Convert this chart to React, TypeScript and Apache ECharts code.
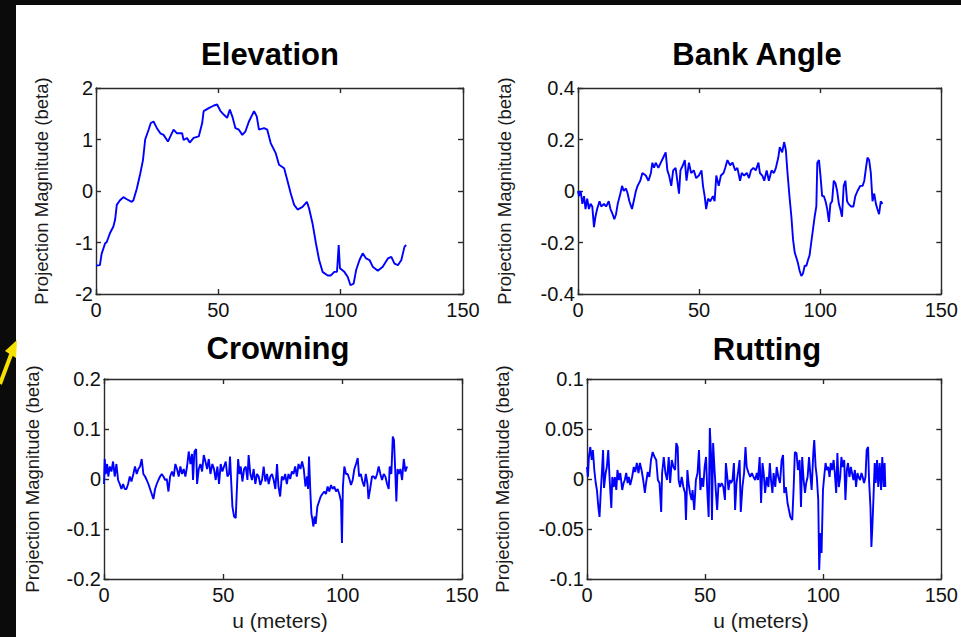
import React, { useEffect, useRef } from "react";
import * as echarts from "echarts";

// ---------- data (u in meters, projection magnitude) ----------
const elevU = [0.0,1.6,2.3,3.7,4.4,5.7,7.1,7.8,8.5,9.8,11.2,12.6,14.6,15.3,16.7,18.1,19.2,20.1,21.5,22.4,23.5,24.9,26.3,27.6,29.4,30.4,31.7,33.1,35.2,35.8,37.2,38.3,39.9,42.0,43.4,44.0,46.1,48.2,49.5,50.9,52.3,53.6,54.7,55.7,57.0,58.4,59.8,61.1,62.5,64.6,65.7,66.6,68.7,70.0,71.4,73.5,74.8,76.9,78.2,79.6,81.0,82.4,84.4,86.2,87.1,88.5,89.9,91.2,92.6,94.7,96.0,97.4,98.5,99.2,99.7,101.5,102.9,104.0,105.3,106.3,107.7,109.0,110.4,111.8,113.1,115.2,117.2,119.3,120.7,122.0,123.4,124.8,126.1,126.8];
const elevV = [-1.45,-1.44,-1.22,-1.02,-0.99,-0.82,-0.69,-0.56,-0.27,-0.18,-0.12,-0.16,-0.21,-0.18,0.05,0.34,0.60,1.00,1.19,1.32,1.35,1.22,1.12,1.09,0.96,1.06,1.19,1.12,1.12,0.99,1.03,0.94,1.03,1.06,1.32,1.55,1.61,1.66,1.68,1.55,1.48,1.42,1.58,1.45,1.22,1.19,1.09,1.16,1.35,1.55,1.45,1.19,1.22,1.19,0.93,0.73,0.51,0.44,0.21,-0.05,-0.27,-0.36,-0.31,-0.21,-0.34,-0.63,-1.02,-1.34,-1.57,-1.64,-1.64,-1.57,-1.57,-1.05,-1.50,-1.57,-1.67,-1.83,-1.80,-1.54,-1.34,-1.21,-1.31,-1.34,-1.47,-1.55,-1.47,-1.31,-1.28,-1.41,-1.44,-1.34,-1.08,-1.05];

const bankU = [0.0,0.4,1.1,1.8,2.5,3.1,3.8,4.5,5.2,5.9,6.6,7.2,7.9,8.9,9.6,10.7,11.6,12.7,13.4,14.3,15.0,15.7,16.4,17.5,18.2,18.9,19.8,20.5,21.2,22.3,23.0,23.9,24.6,25.7,26.6,28.0,29.1,30.1,30.7,31.4,32.1,33.2,34.2,35.2,36.2,36.9,37.6,38.5,39.3,40.3,41.0,41.7,42.3,43.3,44.1,44.8,45.8,46.7,47.8,48.8,49.9,51.0,51.6,52.3,52.9,53.7,54.6,55.7,56.4,57.1,58.1,59.0,60.1,60.8,61.7,62.8,63.8,64.9,65.8,66.9,67.6,68.6,69.7,70.6,71.4,72.4,73.4,74.5,75.1,76.1,76.9,77.9,78.8,79.9,80.9,81.7,82.7,83.3,84.3,85.1,85.8,86.5,87.4,88.1,88.8,89.5,90.2,90.8,91.5,92.2,92.9,93.6,94.3,94.9,95.6,96.3,97.0,97.7,98.4,98.8,99.5,100.1,100.8,101.5,102.2,102.9,103.6,104.2,104.9,105.6,106.3,107.0,107.7,108.3,109.0,109.7,110.4,111.1,111.7,112.7,113.7,114.5,115.4,116.5,117.5,118.2,118.9,119.5,120.2,120.9,121.6,122.3,123.0,123.6,124.3,125.0,125.7];
const bankV = [0.00,-0.02,0.00,-0.05,-0.02,-0.07,-0.03,-0.07,-0.05,-0.06,-0.14,-0.10,-0.07,-0.04,-0.06,-0.05,-0.06,-0.04,-0.07,-0.09,-0.11,-0.09,-0.05,-0.01,0.02,0.00,0.01,-0.01,-0.04,-0.07,-0.04,0.00,0.02,0.04,0.07,0.06,0.04,0.07,0.11,0.09,0.11,0.09,0.11,0.13,0.15,0.08,0.06,0.02,0.08,0.09,0.04,-0.01,0.08,0.10,0.12,0.04,0.11,0.07,0.08,0.05,0.06,0.08,0.02,-0.02,-0.07,-0.03,-0.04,-0.02,-0.04,0.06,0.02,0.06,0.07,0.09,0.12,0.10,0.11,0.08,0.09,0.04,0.07,0.06,0.07,0.05,0.08,0.09,0.08,0.11,0.07,0.06,0.04,0.08,0.04,0.08,0.07,0.09,0.13,0.17,0.15,0.19,0.16,0.07,-0.03,-0.10,-0.19,-0.24,-0.26,-0.28,-0.31,-0.33,-0.32,-0.29,-0.29,-0.27,-0.25,-0.20,-0.15,-0.10,-0.06,0.11,0.12,0.06,-0.02,-0.02,-0.04,-0.07,-0.12,-0.05,-0.04,0.04,0.03,0.00,-0.05,-0.07,-0.10,0.02,0.04,-0.04,-0.05,-0.06,-0.06,-0.02,0.00,0.02,0.02,0.04,0.09,0.13,0.12,0.07,-0.04,-0.01,-0.05,-0.07,-0.09,-0.04,-0.05];

const crownU = [0.0,0.3,0.7,1.3,1.8,2.4,3.1,3.8,4.5,5.2,5.9,6.6,7.3,8.0,8.7,9.4,10.1,10.8,11.5,12.3,13.0,13.7,14.4,15.1,15.8,16.5,17.2,17.9,18.6,19.3,20.0,20.7,21.4,22.1,22.8,23.5,24.2,24.9,25.6,26.3,27.0,27.7,28.5,29.2,29.9,30.6,31.3,32.0,32.7,33.4,34.1,34.8,35.5,36.2,36.9,37.3,37.9,38.6,39.0,39.7,40.4,41.1,41.8,42.5,43.2,43.9,44.6,45.4,46.1,46.8,47.5,48.2,48.9,49.6,50.3,51.0,51.7,52.4,52.8,53.4,53.8,54.5,55.2,55.6,56.2,56.8,57.3,58.0,58.7,59.4,60.1,60.6,61.3,62.0,62.7,63.4,64.1,64.8,65.5,66.2,66.9,67.6,68.3,69.0,69.7,70.4,71.1,71.8,72.5,73.1,73.8,74.5,75.2,75.9,76.6,77.3,78.0,78.7,79.4,80.1,80.8,81.5,82.3,83.0,83.7,84.4,85.1,85.5,85.9,86.5,86.9,87.3,87.7,88.3,88.7,89.4,90.1,90.8,91.5,92.3,93.0,93.7,94.4,95.1,95.8,96.5,97.2,97.9,98.6,99.3,99.7,100.1,100.7,101.4,102.1,102.8,103.5,104.2,104.9,105.6,106.3,106.9,107.6,108.3,109.0,109.7,110.4,110.8,111.5,112.3,113.0,113.7,114.4,115.1,115.8,116.5,117.2,117.9,118.6,119.3,119.7,120.4,121.0,121.5,122.0,122.5,123.0,123.5,124.2,124.9,125.6,126.3,127.0];
const crownV = [-0.01,0.04,0.01,0.03,0.005,0.025,0.015,0.035,0.005,0.03,-0.002,-0.01,-0.02,-0.01,-0.02,-0.02,-0.01,0.005,-0.005,0.01,0.025,0.01,0.02,0.025,0.04,0.01,0.005,-0.002,-0.01,-0.02,-0.03,-0.04,-0.02,-0.01,-0.002,0.005,0.01,0.005,-0.002,0.0,-0.025,0.005,0.015,0.005,0.03,0.02,0.005,0.025,0.01,0.02,0.005,0.025,0.055,0.03,0.05,-0.002,0.055,0.06,-0.01,0.02,0.03,0.015,0.048,0.035,0.02,0.04,0.01,0.03,0.02,-0.002,0.025,-0.01,0.03,0.015,0.025,0.035,0.005,0.01,0.045,-0.015,-0.055,-0.075,-0.078,-0.03,0.04,0.01,0.025,-0.005,0.02,0.025,-0.002,0.048,0.01,-0.002,0.02,-0.01,0.01,0.005,-0.012,-0.002,0.025,-0.005,0.01,-0.01,0.005,0.01,-0.002,-0.02,0.03,-0.015,-0.035,0.005,-0.002,0.01,-0.01,0.01,0.0,0.015,0.01,0.025,0.005,0.03,0.02,0.035,0.02,-0.015,0.005,-0.02,0.045,-0.03,-0.07,-0.08,-0.095,-0.075,-0.09,-0.055,-0.045,-0.035,-0.03,-0.025,-0.03,-0.015,-0.025,-0.012,-0.02,-0.015,-0.025,-0.02,-0.03,-0.045,-0.128,-0.015,0.025,0.01,0.01,0.0,-0.012,-0.002,0.02,0.03,0.042,0.005,0.01,-0.005,-0.015,0.01,-0.01,-0.04,-0.02,0.005,0.005,0.0,0.01,0.025,0.01,-0.002,0.01,0.005,-0.01,-0.02,0.025,0.01,0.085,0.078,0.02,-0.045,0.02,0.01,0.02,-0.002,0.04,0.015,0.025];

const ruttU = [0.0,0.4,0.8,1.4,2.0,2.5,3.1,3.7,4.2,4.8,5.3,5.8,6.3,6.8,7.2,7.9,8.4,9.0,9.6,10.3,10.7,11.3,11.8,12.4,12.9,13.5,14.1,14.9,15.5,16.0,16.6,17.2,17.7,18.3,19.1,19.8,20.4,21.1,21.8,22.4,23.1,23.8,24.5,25.0,25.7,26.4,27.1,27.8,28.6,29.3,30.0,30.7,31.4,31.8,32.5,33.2,33.9,34.6,35.2,35.9,36.6,37.3,37.8,38.4,38.8,39.4,40.1,40.8,41.5,41.9,42.5,43.0,43.6,44.3,44.7,45.4,46.1,46.8,47.4,48.0,48.7,49.2,49.8,50.4,50.9,51.5,52.0,52.5,52.9,53.4,54.0,54.6,55.1,55.7,56.3,57.0,57.7,58.4,58.8,59.4,59.9,60.5,61.0,61.6,62.2,62.7,63.3,63.9,64.6,65.1,65.8,66.5,67.1,67.6,68.4,69.1,69.8,70.5,71.2,71.9,72.4,73.1,73.7,74.3,74.8,75.4,76.1,76.8,77.4,77.9,78.5,79.0,79.7,80.3,81.0,81.7,82.4,83.0,83.5,84.2,84.9,85.5,86.1,86.9,87.5,88.0,88.7,89.3,90.0,90.6,91.1,91.7,92.3,92.8,93.4,94.0,94.5,95.1,95.8,96.2,96.8,97.3,97.9,98.3,98.9,99.3,99.9,100.4,101.0,101.5,102.1,102.7,103.2,103.8,104.4,104.9,105.5,106.0,106.6,107.2,107.7,108.3,108.9,109.4,110.0,110.5,111.1,111.7,112.2,112.8,113.4,113.9,114.5,115.0,115.6,116.2,116.7,117.3,117.9,118.4,119.0,119.4,120.0,120.4,120.8,121.2,121.8,122.2,122.8,123.3,123.9,124.5,125.0,125.6,126.0,126.3];
const ruttV = [0.012,0.002,0.022,0.032,0.019,0.029,0.009,-0.004,-0.011,-0.028,-0.038,-0.014,0.006,0.029,-0.009,0.006,0.012,0.029,-0.001,-0.029,0.002,-0.008,0.002,-0.011,0.009,-0.001,0.006,-0.011,-0.004,-0.001,0.006,-0.004,0.002,-0.006,0.002,0.012,0.007,0.016,0.006,0.016,0.009,-0.001,-0.014,-0.004,0.007,0.002,0.019,0.027,0.022,0.019,-0.001,-0.004,-0.033,0.006,0.022,0.006,-0.001,0.022,-0.004,0.019,0.012,0.009,0.036,0.032,-0.001,-0.008,0.002,-0.008,-0.014,-0.041,0.009,-0.004,-0.014,-0.021,-0.011,-0.031,-0.001,0.006,0.029,-0.011,0.001,-0.008,0.012,0.022,-0.011,-0.038,0.051,0.026,-0.041,0.036,0.009,-0.014,-0.031,-0.004,-0.008,-0.004,-0.008,-0.021,0.016,0.002,-0.011,-0.001,-0.004,-0.001,0.016,-0.031,-0.004,0.006,0.019,-0.033,-0.008,0.006,0.032,0.012,0.006,0.002,0.006,0.002,-0.001,0.006,-0.001,0.022,-0.024,0.016,0.006,-0.014,0.002,-0.008,0.016,-0.001,-0.014,0.006,-0.008,0.012,0.002,-0.004,0.019,0.024,-0.014,-0.008,-0.024,-0.031,-0.038,-0.041,-0.008,0.027,0.026,0.009,0.019,-0.028,0.022,-0.001,-0.014,-0.004,0.002,0.022,0.006,-0.011,0.026,0.039,0.012,0.002,-0.021,-0.091,-0.054,-0.074,-0.011,0.002,0.016,0.009,0.012,0.002,0.016,0.009,0.019,0.006,-0.014,0.026,-0.008,0.002,0.022,0.012,0.019,-0.021,0.009,0.016,0.002,0.012,0.006,-0.001,0.009,-0.008,0.006,0.002,-0.001,0.006,0.002,-0.004,0.002,0.029,0.032,-0.001,-0.028,-0.068,-0.048,-0.024,0.016,-0.004,0.019,-0.008,0.016,-0.011,0.022,-0.008,0.016,-0.008];

const X_TICKS = [0, 50, 100, 150];
const TITLES = ["Elevation", "Bank Angle", "Crowning", "Rutting"];
const Y_NAME = "Projection Magnitude (beta)";
const X_NAME = "u (meters)";
const Y_MIN = [-2, -0.4, -0.2, -0.1];
const Y_MAX = [2, 0.4, 0.2, 0.1];
const Y_STEP = [1, 0.2, 0.1, 0.05];
const SERIES_U = [elevU, bankU, crownU, ruttU];
const SERIES_V = [elevV, bankV, crownV, ruttV];
const SHOW_X_NAME = [false, false, true, true];

// ---------- layout ----------
const LAYOUT = [
  { left: 96, top: 88, width: 367, height: 206, titleX: 270, titleY: 54, yNameX: 41, xNameX: 280 },
  { left: 578, top: 88, width: 367, height: 206, titleX: 757, titleY: 54, yNameX: 504, xNameX: 761 },
  { left: 104, top: 379, width: 358, height: 200, titleX: 278, titleY: 348, yNameX: 32, xNameX: 280 },
  { left: 587, top: 379, width: 356, height: 200, titleX: 767, titleY: 349, yNameX: 502, xNameX: 761 },
];

const FONT = "'Liberation Sans', Arial, Helvetica, sans-serif";
const AX_COLOR = "#2a2a2a";
const LABEL_COLOR = "#111";

function fmt(v: number) {
  return String(parseFloat(v.toFixed(4)));
}

export default function App() {
  const ref = useRef<HTMLDivElement>(null);

  useEffect(() => {
    if (!ref.current) return;
    const chart = echarts.init(ref.current, undefined, { renderer: "svg" });

    const grids: any[] = [];
    const xAxes: any[] = [];
    const yAxes: any[] = [];
    const series: any[] = [];
    const graphics: any[] = [];

    LAYOUT.forEach((L, i) => {
      grids.push({ left: L.left, top: L.top, width: L.width, height: L.height, containLabel: false });
      const lineStyle = { color: AX_COLOR, width: 1.4 };
      const tick = { show: true, inside: true, length: 5, lineStyle };
      const xBase = {
        type: "value",
        gridIndex: i,
        min: X_TICKS[0],
        max: X_TICKS[X_TICKS.length - 1],
        interval: X_TICKS[1] - X_TICKS[0],
        splitLine: { show: false },
        axisLine: { show: true, onZero: false, lineStyle },
        axisTick: tick,
      };
      xAxes.push({
        ...xBase,
        position: "bottom",
        axisLabel: { show: true, margin: 6, color: LABEL_COLOR, fontSize: 20, fontFamily: FONT, formatter: fmt },
      });
      xAxes.push({ ...xBase, position: "top", axisLabel: { show: false } });

      const yBase = {
        type: "value",
        gridIndex: i,
        min: Y_MIN[i],
        max: Y_MAX[i],
        interval: Y_STEP[i],
        splitLine: { show: false },
        axisLine: { show: true, onZero: false, lineStyle },
        axisTick: tick,
      };
      yAxes.push({
        ...yBase,
        position: "left",
        axisLabel: { show: true, margin: 3, color: LABEL_COLOR, fontSize: 20, fontFamily: FONT, formatter: fmt },
      });
      yAxes.push({ ...yBase, position: "right", axisLabel: { show: false } });

      const u = SERIES_U[i];
      const v = SERIES_V[i];
      const n = Math.min(u.length, v.length);
      const data: number[][] = [];
      for (let k = 0; k < n; k++) data.push([u[k], v[k]]);
      series.push({
        type: "line",
        xAxisIndex: 2 * i,
        yAxisIndex: 2 * i,
        data,
        showSymbol: false,
        symbol: "none",
        lineStyle: { color: "#0000ff", width: 1.9 },
        z: 3,
      });

      graphics.push({
        type: "text",
        x: L.titleX,
        y: L.titleY,
        style: {
          text: TITLES[i],
          fill: "#000",
          font: `bold 31px ${FONT}`,
          textAlign: "center",
          textVerticalAlign: "middle",
        },
      });
      graphics.push({
        type: "text",
        x: L.yNameX,
        y: L.top + L.height / 2,
        rotation: Math.PI / 2,
        style: {
          text: Y_NAME,
          fill: "#1a1a1a",
          font: `18.5px ${FONT}`,
          textAlign: "center",
          textVerticalAlign: "middle",
        },
      });
      if (SHOW_X_NAME[i]) {
        graphics.push({
          type: "text",
          x: L.xNameX,
          y: 620,
          style: {
            text: X_NAME,
            fill: "#1a1a1a",
            font: `21px ${FONT}`,
            textAlign: "center",
            textVerticalAlign: "middle",
          },
        });
      }
    });

    // yellow pointer arrow at the left edge
    graphics.push({
      type: "line",
      shape: { x1: 0, y1: 384, x2: 12, y2: 352 },
      style: { stroke: "#f5e000", lineWidth: 4 },
    });
    graphics.push({
      type: "polygon",
      shape: { points: [[17, 340], [5, 351], [16, 358]] },
      style: { fill: "#f5e000" },
    });

    chart.setOption({
      animation: false,
      backgroundColor: "transparent",
      grid: grids,
      xAxis: xAxes,
      yAxis: yAxes,
      series,
      graphic: graphics,
    });

    return () => chart.dispose();
  }, []);

  return (
    <div style={{ position: "fixed", left: 0, top: 0, width: 961, height: 637, background: "#0b0b0b", overflow: "hidden" }}>
      <div style={{ position: "absolute", left: 16, top: 5, width: 945, height: 632, background: "#ffffff" }} />
      <div ref={ref} style={{ position: "absolute", left: 0, top: 0, width: 961, height: 637 }} />
    </div>
  );
}
